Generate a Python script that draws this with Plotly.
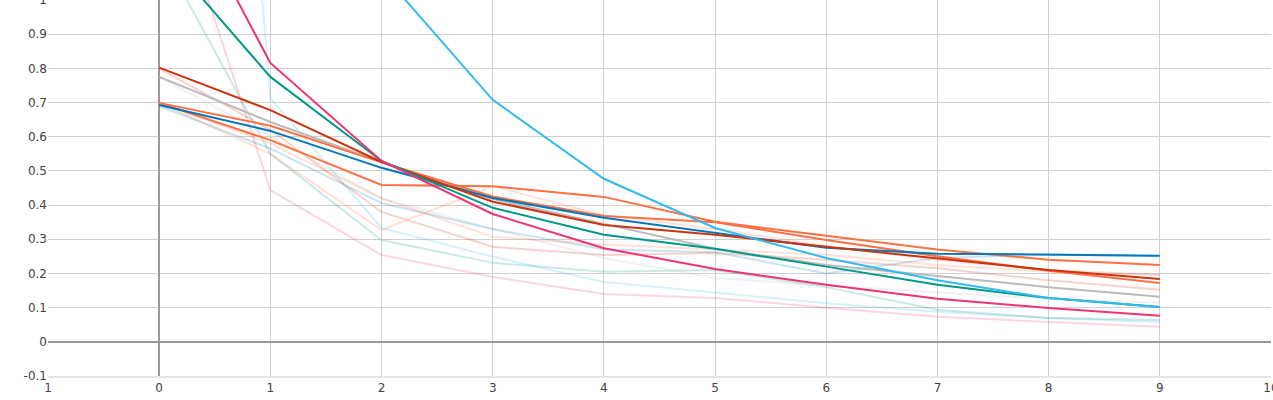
import plotly.graph_objects as go

x = [0, 1, 2, 3, 4, 5, 6, 7, 8, 9]

# bold series
blue = [0.693, 0.617, 0.509, 0.421, 0.363, 0.319, 0.275, 0.258, 0.254, 0.252]
cyan = [2.2, 1.6, 1.08, 0.708, 0.477, 0.333, 0.245, 0.18, 0.128, 0.102]
teal = [1.15, 0.775, 0.529, 0.392, 0.313, 0.272, 0.22, 0.167, 0.128, 0.102]
magenta = [1.43, 0.816, 0.529, 0.374, 0.274, 0.213, 0.167, 0.126, 0.099, 0.076]
red = [0.802, 0.678, 0.526, 0.41, 0.342, 0.313, 0.278, 0.245, 0.21, 0.184]
grey = [0.775, 0.643, 0.526, 0.418, 0.345, 0.272, 0.225, 0.193, 0.16, 0.132]
orange_a = [0.699, 0.632, 0.525, 0.425, 0.368, 0.35, 0.298, 0.25, 0.208, 0.172]
orange_b = [0.699, 0.59, 0.459, 0.455, 0.424, 0.351, 0.31, 0.27, 0.24, 0.225]

# faded series
f_blue = [0.69, 0.565, 0.406, 0.33, 0.27, 0.262, 0.2, 0.245, 0.255, 0.25]
f_cyan = [4.7, 0.713, 0.333, 0.249, 0.175, 0.143, 0.113, 0.088, 0.07, 0.058]
f_teal = [1.15, 0.55, 0.298, 0.231, 0.205, 0.21, 0.16, 0.094, 0.07, 0.064]
f_pink = [1.44, 0.444, 0.254, 0.19, 0.14, 0.128, 0.1, 0.073, 0.058, 0.044]
f_red = [0.8, 0.62, 0.38, 0.278, 0.254, 0.26, 0.24, 0.215, 0.18, 0.152]
f_grey = [0.775, 0.6, 0.42, 0.33, 0.245, 0.187, 0.165, 0.145, 0.125, 0.114]
f_orange_a = [0.7, 0.55, 0.327, 0.455, 0.37, 0.33, 0.28, 0.24, 0.21, 0.196]
f_orange_b = [0.7, 0.58, 0.42, 0.307, 0.285, 0.27, 0.255, 0.225, 0.205, 0.196]

x_tickvals = [-1, 0, 1, 2, 3, 4, 5, 6, 7, 8, 9, 10]
x_ticktext = ["1", "0", "1", "2", "3", "4", "5", "6", "7", "8", "9", "10"]
y_tickvals = [-0.1, 0, 0.1, 0.2, 0.3, 0.4, 0.5, 0.6, 0.7, 0.8, 0.9, 1]
y_ticktext = ["-0.1", "0", "0.1", "0.2", "0.3", "0.4", "0.5", "0.6", "0.7", "0.8", "0.9", "1"]

faded = [
    (f_blue, "#0077BB"), (f_cyan, "#33BBEE"), (f_teal, "#009988"), (f_pink, "#EE3377"),
    (f_red, "#CC3311"), (f_grey, "#BBBBBB"), (f_orange_a, "#FF7043"), (f_orange_b, "#FF7043"),
]
bold = [
    (grey, "#BBBBBB"), (orange_a, "#FF7043"), (orange_b, "#FF7043"), (blue, "#0077BB"),
    (red, "#CC3311"), (teal, "#009988"), (magenta, "#EE3377"), (cyan, "#33BBEE"),
]

fig = go.Figure()
for ys, c in faded:
    fig.add_trace(go.Scatter(x=x, y=ys, mode="lines", line=dict(color=c, width=2),
                             opacity=0.2, showlegend=False, hoverinfo="skip"))
for ys, c in bold:
    fig.add_trace(go.Scatter(x=x, y=ys, mode="lines", line=dict(color=c, width=2),
                             showlegend=False))

fig.update_layout(
    width=1273, height=400,
    margin=dict(l=48, r=2, t=0, b=24, pad=0),
    paper_bgcolor="white", plot_bgcolor="white",
    font=dict(family="DejaVu Sans", size=12, color="#444"),
    showlegend=False,
)
fig.update_xaxes(range=[-1, 10], tickmode="array", tickvals=x_tickvals, ticktext=x_ticktext,
                 automargin=False, ticklabeloverflow="allow",
                 showgrid=True, gridcolor="#d0d0d0", gridwidth=1,
                 zeroline=True, zerolinecolor="#999999", zerolinewidth=2,
                 showline=True, linecolor="#e6e6e6", linewidth=2,
                 ticks="", tickfont=dict(size=12))
fig.update_yaxes(range=[-0.1, 1], tickmode="array", tickvals=y_tickvals, ticktext=y_ticktext,
                 automargin=False, ticklabeloverflow="allow",
                 showgrid=True, gridcolor="#d0d0d0", gridwidth=1,
                 zeroline=True, zerolinecolor="#999999", zerolinewidth=2,
                 showline=False, ticks="", tickfont=dict(size=12))

fig.write_html("out.html", config={"displayModeBar": False},
               post_script="document.body.style.margin='0';")
